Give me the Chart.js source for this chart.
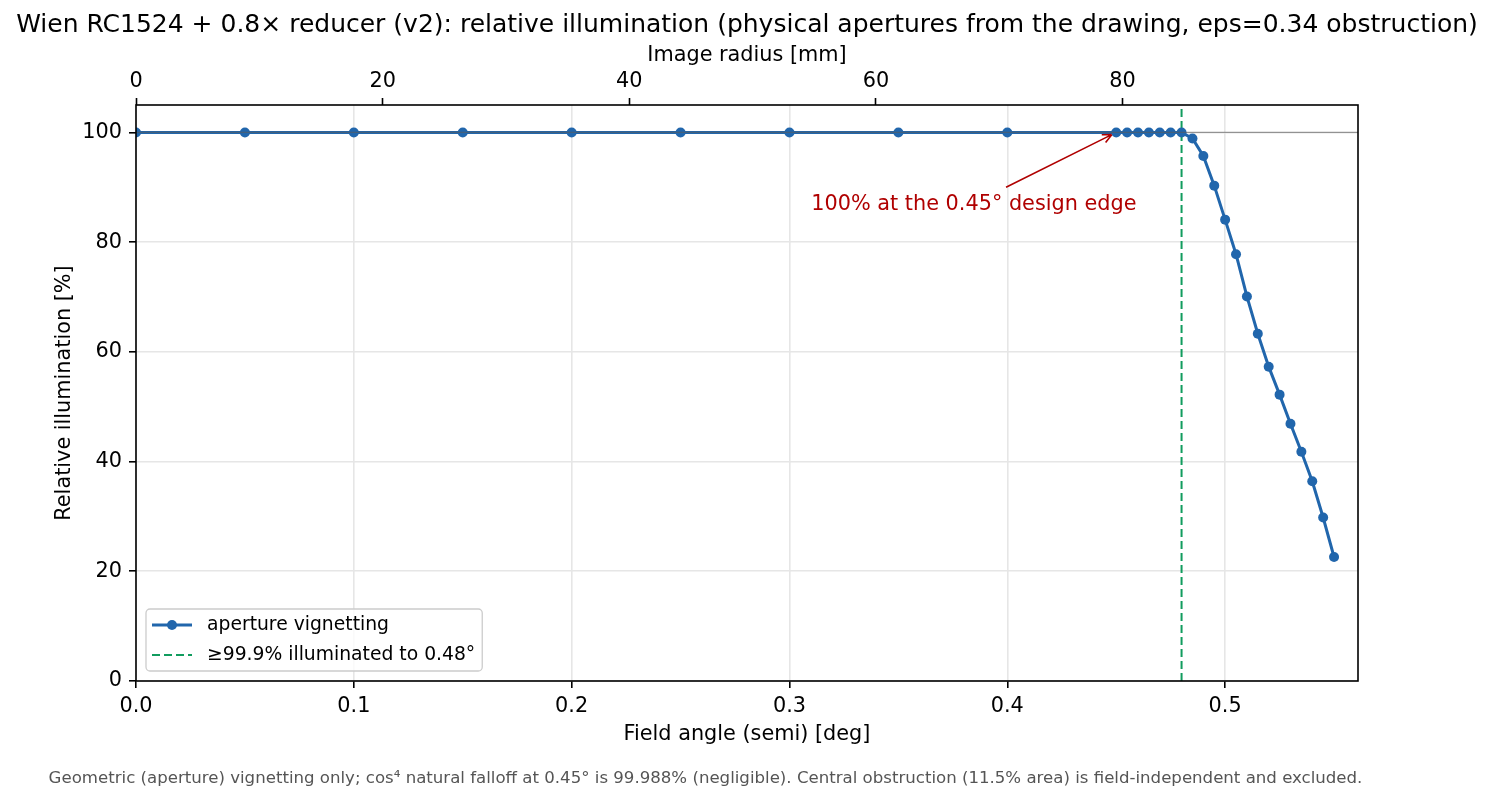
<!DOCTYPE html>
<html>
<head>
<meta charset="utf-8">
<title>Relative illumination</title>
<script src="https://cdn.jsdelivr.net/npm/chart.js@4.4.1/dist/chart.umd.min.js"></script>
<style>
    html, body { margin: 0; padding: 0; background: #fff; }
    #chart { display: block; }
</style>
</head>
<body>
<canvas id="chart" width="1494" height="803"></canvas>
<script>
// field angle [deg] and geometric (aperture) relative illumination [%]
const fieldAngles = [0, 0.05, 0.10, 0.15, 0.20, 0.25, 0.30, 0.35, 0.40, 0.45,
    0.455, 0.46, 0.465, 0.47, 0.475, 0.48, 0.485, 0.49, 0.495, 0.50,
    0.505, 0.51, 0.515, 0.52, 0.525, 0.53, 0.535, 0.54, 0.545, 0.55];
const illumination = [100, 100, 100, 100, 100, 100, 100, 100, 100, 100,
    100, 100, 100, 100, 100, 100, 98.9, 95.7, 90.3, 84.1,
    77.8, 70.1, 63.3, 57.3, 52.2, 46.9, 41.8, 36.4, 29.8, 22.6];

const angleTicks = [0, 0.1, 0.2, 0.3, 0.4, 0.5];
const radiusTicks = [0, 20, 40, 60, 80];
const illumTicks = [0, 20, 40, 60, 80, 100];

const angleMax = 0.561;
const illumMax = 105;
const fullLight = 100;
const illuminatedTo = 0.48;
const designEdge = 0.45;
const noteAt = [0.31, 87.1];
const focalLength = 10120; // mm, RC1524 with 0.8x reducer
const mmPerDeg = focalLength * Math.PI / 180;

const titleText = 'Wien RC1524 + 0.8\u00d7 reducer (v2): relative illumination (physical apertures from the drawing, eps=0.34 obstruction)';
const noteText = '100% at the 0.45\u00b0 design edge';
const footText = 'Geometric (aperture) vignetting only; cos\u2074 natural falloff at 0.45\u00b0 is 99.988% (negligible). Central obstruction (11.5% area) is field-independent and excluded.';

const FONT = "'DejaVu Sans', sans-serif";
const BLUE = '#2166ac';
const GREEN = '#119c5e';
const RED = '#b00000';
const GRID = '#e6e6e6';

Chart.defaults.font.family = FONT;
Chart.defaults.color = '#000';

const axisFont = { family: FONT, size: 20.8, lineHeight: 1.2 };

function setTicks(values) {
    return function (scale) {
        scale.ticks = values.map(v => ({ value: v }));
    };
}

// title, frame, annotation, legend and footnote
const decorations = {
    id: 'decorations',
    afterDatasetsDraw(chart) {
        const { ctx, chartArea: a } = chart;
        ctx.save();
        ctx.strokeStyle = '#000';
        ctx.lineWidth = 1.6;
        ctx.strokeRect(a.left, a.top, a.right - a.left, a.bottom - a.top);
        ctx.restore();
    },
    afterDraw(chart) {
        const { ctx, chartArea: a, scales } = chart;
        const xs = scales.x, ys = scales.y;

        // title, centred on the figure
        ctx.save();
        ctx.font = `25px ${FONT}`;
        ctx.fillStyle = '#000';
        ctx.textAlign = 'center';
        ctx.textBaseline = 'middle';
        ctx.fillText(titleText, chart.width / 2, 25);
        ctx.restore();

        // annotation with arrow
        ctx.save();
        ctx.font = `20.8px ${FONT}`;
        ctx.fillStyle = RED;
        ctx.textAlign = 'left';
        ctx.textBaseline = 'middle';
        const lx = xs.getPixelForValue(noteAt[0]);
        const cy = ys.getPixelForValue(noteAt[1]);
        const tw = ctx.measureText(noteText).width;
        ctx.fillText(noteText, lx, cy + 1);
        const cx = lx + tw / 2;
        const tx = xs.getPixelForValue(designEdge);
        const ty = ys.getPixelForValue(fullLight);
        const sy = cy - 16;
        const sx = cx + (tx - cx) * (cy - sy) / (cy - ty);
        const len = Math.hypot(tx - sx, ty - sy);
        const ux = (tx - sx) / len, uy = (ty - sy) / len;
        const ex = tx - ux * 5, ey = ty - uy * 5;
        ctx.strokeStyle = RED;
        ctx.lineWidth = 1.6;
        ctx.beginPath();
        ctx.moveTo(sx, sy);
        ctx.lineTo(ex, ey);
        const ang = Math.atan2(uy, ux);
        for (const d of [-0.45, 0.45]) {
            ctx.moveTo(ex, ey);
            ctx.lineTo(ex - 10 * Math.cos(ang + d), ey - 10 * Math.sin(ang + d));
        }
        ctx.stroke();
        ctx.restore();

        // legend, lower left inside the axes
        const items = chart.data.datasets.filter(d => d.label);
        ctx.save();
        ctx.font = `18.75px ${FONT}`;
        const textW = Math.max(...items.map(d => ctx.measureText(d.label).width));
        const bx = a.left + 10, by = a.bottom - 10 - 62;
        const bw = 61 + textW + 7, bh = 62;
        ctx.beginPath();
        ctx.roundRect(bx, by, bw, bh, 4);
        ctx.fillStyle = 'rgba(255,255,255,0.8)';
        ctx.fill();
        ctx.strokeStyle = '#cccccc';
        ctx.lineWidth = 1.3;
        ctx.stroke();
        items.forEach((d, i) => {
            const yy = by + 16 + i * 30;
            ctx.strokeStyle = d.borderColor;
            ctx.lineWidth = d.borderWidth;
            ctx.setLineDash(d.borderDash || []);
            ctx.beginPath();
            ctx.moveTo(bx + 6, yy);
            ctx.lineTo(bx + 46, yy);
            ctx.stroke();
            ctx.setLineDash([]);
            if (d.pointRadius) {
                ctx.fillStyle = d.borderColor;
                ctx.beginPath();
                ctx.arc(bx + 26, yy, d.pointRadius, 0, Math.PI * 2);
                ctx.fill();
            }
            ctx.fillStyle = '#000';
            ctx.textAlign = 'left';
            ctx.textBaseline = 'middle';
            ctx.fillText(d.label, bx + 61, yy);
        });
        ctx.restore();

        // footnote
        ctx.save();
        ctx.font = `16.6px ${FONT}`;
        ctx.fillStyle = '#555555';
        ctx.textAlign = 'center';
        ctx.textBaseline = 'middle';
        ctx.fillText(footText, 705.5, 779);
        ctx.restore();
    }
};

const curve = fieldAngles.map((a, i) => ({ x: a, y: illumination[i] }));

new Chart(document.getElementById('chart'), {
    type: 'line',
    data: {
        datasets: [
            {
                label: 'aperture vignetting',
                data: curve,
                borderColor: BLUE,
                backgroundColor: BLUE,
                borderWidth: 3,
                pointRadius: 5,
                pointBorderWidth: 0,
                pointBackgroundColor: BLUE,
                clip: 0,
                order: 2
            },
            {
                label: '\u226599.9% illuminated to 0.48\u00b0',
                data: [{ x: illuminatedTo, y: 0 }, { x: illuminatedTo, y: illumMax }],
                borderColor: GREEN,
                borderWidth: 2,
                borderDash: [8, 4],
                pointRadius: 0,
                clip: 0,
                order: 3
            },
            {
                data: [{ x: 0, y: fullLight }, { x: angleMax, y: fullLight }],
                borderColor: 'rgba(90,90,90,0.6)',
                borderWidth: 1.3,
                pointRadius: 0,
                clip: 0,
                order: 1
            }
        ]
    },
    options: {
        responsive: false,
        animation: false,
        events: [],
        devicePixelRatio: 1,
        layout: { padding: { left: 0, right: 136, top: 0, bottom: 0 } },
        plugins: {
            legend: { display: false },
            tooltip: { enabled: false },
            title: { display: false }
        },
        scales: {
            x: {
                type: 'linear',
                position: 'bottom',
                min: 0,
                max: angleMax,
                afterBuildTicks: setTicks(angleTicks),
                afterFit(scale) { scale.height = 122; },
                ticks: {
                    font: axisFont,
                    color: '#000',
                    padding: 6,
                    maxRotation: 0,
                    autoSkip: false,
                    callback: v => v.toFixed(1)
                },
                grid: { color: GRID, lineWidth: 1.6, tickColor: '#000', tickLength: 7, tickWidth: 1.6 },
                border: { display: false },
                title: {
                    display: true,
                    text: 'Field angle (semi) [deg]',
                    font: axisFont,
                    color: '#000',
                    padding: { top: 0, bottom: 55.5 }
                }
            },
            x2: {
                type: 'linear',
                position: 'top',
                min: 0,
                max: angleMax * mmPerDeg,
                afterBuildTicks: setTicks(radiusTicks),
                afterFit(scale) { scale.height = 105; },
                ticks: {
                    font: axisFont,
                    color: '#000',
                    padding: 4,
                    maxRotation: 0,
                    autoSkip: false,
                    callback: v => String(v)
                },
                grid: { drawOnChartArea: false, tickColor: '#000', tickLength: 7, tickWidth: 1.6 },
                border: { display: false },
                title: {
                    display: true,
                    text: 'Image radius [mm]',
                    font: axisFont,
                    color: '#000',
                    padding: { top: 43.5, bottom: 0 }
                }
            },
            y: {
                type: 'linear',
                position: 'left',
                min: 0,
                max: illumMax,
                afterBuildTicks: setTicks(illumTicks),
                afterFit(scale) { scale.width = 136; },
                ticks: {
                    font: axisFont,
                    color: '#000',
                    padding: 7,
                    autoSkip: false,
                    callback: v => String(v)
                },
                grid: { color: GRID, lineWidth: 1.6, tickColor: '#000', tickLength: 7, tickWidth: 1.6 },
                border: { display: false },
                title: {
                    display: true,
                    text: 'Relative illumination [%]',
                    font: axisFont,
                    color: '#000',
                    padding: { top: 52.5, bottom: 0 }
                }
            }
        }
    },
    plugins: [decorations]
});
</script>
</body>
</html>
